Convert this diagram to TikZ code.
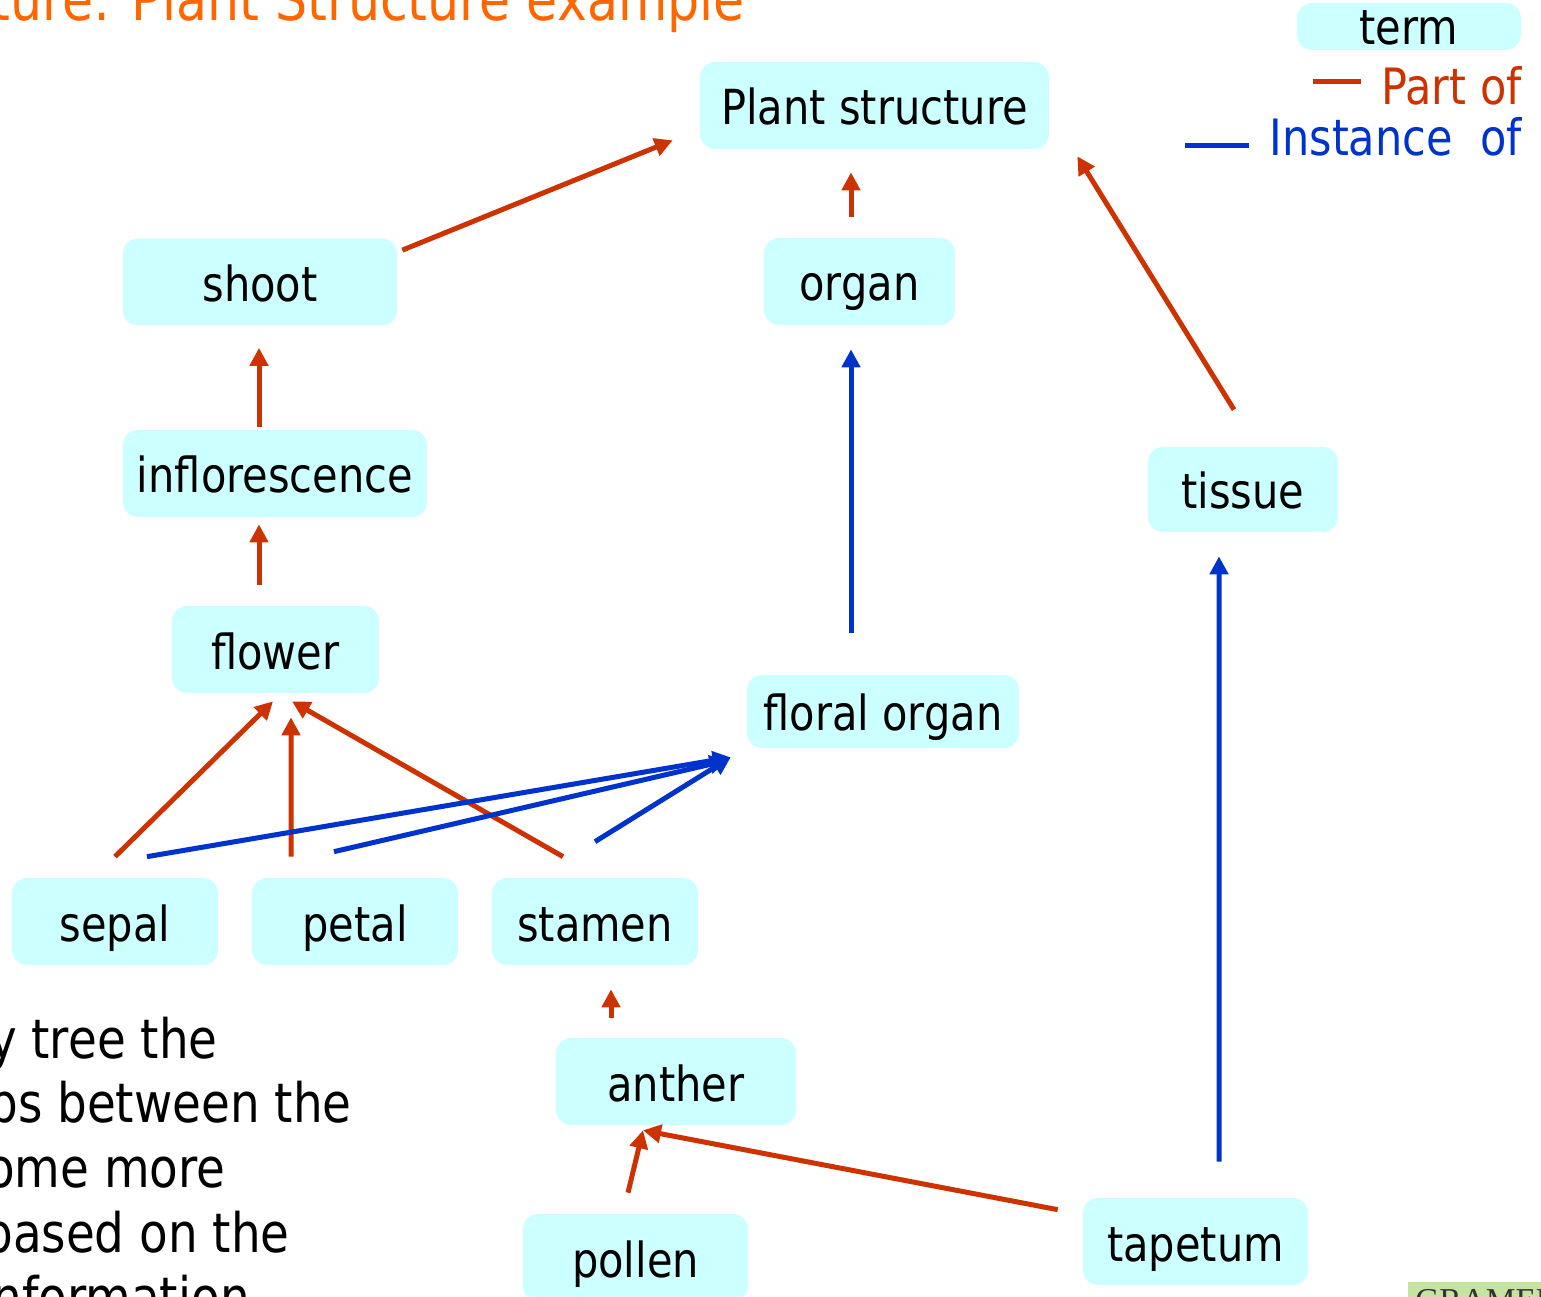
\documentclass[tikz,border=0pt]{standalone}
\usepackage{fontspec}
\setmainfont{DejaVu Sans}[FakeStretch=0.86]
\newfontfamily\logofont{Liberation Serif}
\definecolor{termcyan}{RGB}{204,255,255}
\definecolor{partred}{RGB}{204,51,0}
\definecolor{instblue}{RGB}{0,51,204}
\definecolor{titleorange}{RGB}{255,102,0}
\definecolor{logogreen}{RGB}{196,228,160}
\newcommand{\termfont}{\fontsize{27.5pt}{33pt}\selectfont}
\newcommand{\legendfont}{\fontsize{28.5pt}{34pt}\selectfont}
\newcommand{\bodyfont}{\fontsize{31pt}{37pt}\selectfont}
\newcommand{\titlefont}{\fontsize{33.5pt}{40pt}\selectfont}
\usetikzlibrary{arrows.meta,calc}

\begin{document}
\begin{tikzpicture}[x=0.02cm, y=-0.02cm, font=\termfont]
    \tikzset{termbox/.style={rectangle, rounded corners=0.3cm, fill=termcyan, inner sep=0pt,
      minimum height=1.74cm, text height=0.9cm, text depth=0.12cm}}
    \tikzset{partof/.style={-{Triangle[length=0.36cm, width=0.36cm]}, draw=partred, line width=0.1cm}}
    \tikzset{instanceof/.style={-{Triangle[length=0.36cm, width=0.36cm]}, draw=instblue, line width=0.1cm}}
    \tikzset{bodyline/.style={anchor=base east, inner sep=0pt, font=\bodyfont}}

    \useasboundingbox (0,0) rectangle (1541,1297);
    \clip (0,0) rectangle (1541,1297);

    % Title
    \node[font=\titlefont, text=titleorange, anchor=base east, inner sep=0pt] (title) at (745,21)
      {ucture: Plant Structure example};

    % Legend
    \node[termbox, minimum width=4.48cm, minimum height=0.94cm, text height=0.8cm,
          text depth=0.06cm] (legterm) at (1409,26.5) {term};
    \draw[draw=partred, line width=0.1cm] (1313,82) -- (1361,82);
    \node[text=partred, font=\legendfont, anchor=base east, inner sep=0pt] (legpart) at (1522,105) {Part of};
    \draw[draw=instblue, line width=0.1cm] (1185,146) -- (1249,146);
    \node[text=instblue, font=\legendfont, anchor=base east, inner sep=0pt] (leginst) at (1522,156) {Instance~~of};

    % Terms
    \node[termbox, minimum width=6.98cm] (plant) at (874.5,105.5) {Plant structure};
    \node[termbox, minimum width=5.48cm] (shoot) at (260,282) {shoot};
    \node[termbox, minimum width=3.82cm] (organ) at (859.5,281.5) {organ};
    \node[termbox, minimum width=6.08cm] (infl) at (275,473.5) {inflorescence};
    \node[termbox, minimum width=3.80cm, minimum height=1.70cm] (tissue) at (1243,489.5) {tissue};
    \node[termbox, minimum width=4.14cm] (flower) at (275.5,649.5) {flower};
    \node[termbox, minimum width=5.44cm, minimum height=1.46cm, text height=0.8cm,
          text depth=0.06cm] (floral) at (883,711.5) {floral organ};
    \node[termbox, minimum width=4.12cm] (sepal) at (115,921.5) {sepal};
    \node[termbox, minimum width=4.12cm] (petal) at (355,921.5) {petal};
    \node[termbox, minimum width=4.12cm] (stamen) at (595,921.5) {stamen};
    \node[termbox, minimum width=4.80cm] (anther) at (676,1081.5) {anther};
    \node[termbox, minimum width=4.50cm] (pollen) at (635.5,1257.5) {pollen};
    \node[termbox, minimum width=4.50cm] (tapetum) at (1195.5,1241.5) {tapetum};

    % Part of arrows
    \draw[partof] ($(shoot.north east)+(5,12)$) -- ($(plant.south west)+(-27,-9)$);
    \draw[partof] ($(organ.north)+(-8.5,-21)$) -- ($(plant.south)+(-23.5,23)$);
    \draw[partof] ($(tissue.north)+(-9,-37)$) -- ($(plant.south east)+(28,7)$);
    \draw[partof] ($(infl.north)+(-16,-3)$) -- ($(shoot.south)+(-1,22)$);
    \draw[partof] ($(flower.north)+(-16.5,-21)$) -- ($(infl.south)+(-16,7)$);
    \draw[partof] ($(sepal.north)+(0,-21)$) -- ($(flower.south)+(-2.5,8)$);
    \draw[partof] ($(petal.north)+(-64,-21)$) -- ($(flower.south)+(15.5,24)$);
    \draw[partof] ($(stamen.north)+(-32,-21)$) -- ($(flower.south)+(16.5,8)$);
    \draw[partof] ($(anther.north)+(-65,-20)$) -- ($(stamen.south)+(16,24)$);
    \draw[partof] ($(pollen.north)+(-7.5,-21)$) -- ($(anther.south)+(-33,5)$);
    \draw[partof] ($(tapetum.north west)+(-25,12)$) -- ($(anther.south)+(-33,5)$);

    % Instance of arrows
    \draw[instanceof] ($(sepal.north)+(32,-21)$) -- ($(floral.south west)+(-16,9)$);
    \draw[instanceof] ($(petal.north)+(-21,-26)$) -- ($(floral.south west)+(-19,12)$);
    \draw[instanceof] ($(stamen.north)+(0,-36)$) -- ($(floral.south west)+(-16,9)$);
    \draw[instanceof] ($(floral.north)+(-32,-42)$) -- ($(organ.south)+(-8.5,24)$);
    \draw[instanceof] ($(tapetum.north)+(23.5,-36)$) -- ($(tissue.south)+(-24,24)$);

    % Body text
    \node[bodyline] (line1) at (218,1058) {y tree the};
    \node[bodyline] (line2) at (352,1122) {ps between the};
    \node[bodyline] (line3) at (226,1187) {ome more};
    \node[bodyline] (line4) at (290,1252) {based on the};
    \node[bodyline] (line5) at (250,1316) {nformation};

    % Logo
    \fill[logogreen] (1408,1282) rectangle (1541,1297);
    \node[font=\logofont\fontsize{19pt}{20pt}\selectfont, text=black!80, anchor=base west,
          inner sep=0pt] (logo) at (1415,1311) {GRAMENE};
\end{tikzpicture}
\end{document}
